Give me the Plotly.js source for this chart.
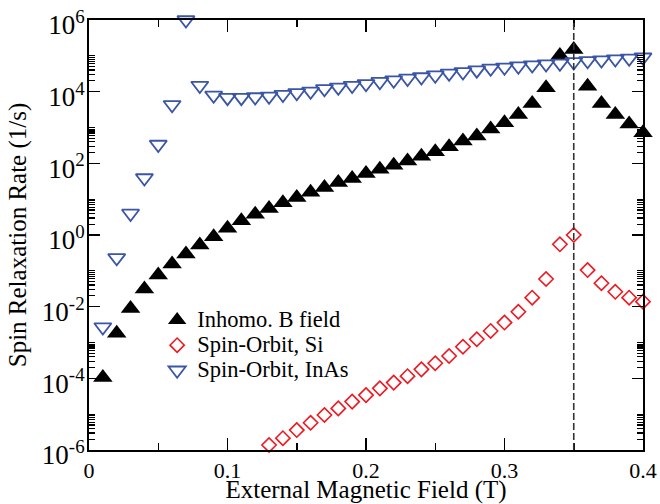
<!DOCTYPE html>
<html>
<head>
<meta charset="utf-8">
<script src="https://cdn.plot.ly/plotly-3.0.1.min.js"></script>
<style>html,body{margin:0;padding:0;background:#fff;}</style>
</head>
<body>
<div id="chart" style="width:660px;height:504px;"></div>
<script>
// External magnetic field (T)
const fieldFull = [0.01,0.02,0.03,0.04,0.05,0.06,0.07,0.08,0.09,0.10,
                   0.11,0.12,0.13,0.14,0.15,0.16,0.17,0.18,0.19,0.20,
                   0.21,0.22,0.23,0.24,0.25,0.26,0.27,0.28,0.29,0.30,
                   0.31,0.32,0.33,0.34,0.35,0.36,0.37,0.38,0.39,0.40];
const fieldSi = [0.13,0.14,0.15,0.16,0.17,0.18,0.19,0.20,
                 0.21,0.22,0.23,0.24,0.25,0.26,0.27,0.28,0.29,0.30,
                 0.31,0.32,0.33,0.34,0.35,0.36,0.37,0.38,0.39,0.40];

// Spin relaxation rates (1/s)
const rateInhomo = [1.05e-4,1.8e-3,8.9e-3,3.1e-2,7.6e-2,0.155,0.295,0.525,0.89,1.55,
                    2.5,3.8,5.5,7.9,11.2,15.5,21,29,38,52,
                    68,89,117,158,209,288,417,575,912,1350,
                    2290,4680,12900,102000,151000,14100,4680,2290,1260,708];
const rateSi = [1.38e-6,2.14e-6,3.6e-6,5.75e-6,9.5e-6,1.45e-5,2.24e-5,3.4e-5,
                5.25e-5,7.6e-5,1.15e-4,1.78e-4,2.63e-4,4.2e-4,7.6e-4,1.23e-3,2.1e-3,3.6e-3,
                7.2e-3,1.78e-2,5.9e-2,0.55,1.0,0.105,0.045,0.026,0.0178,0.0138];
const rateInAs = [2.7e-3,0.23,4.0,39,335,4300,1.0e6,14800,7900,6800,
                  6800,7100,7400,8300,9300,10200,12000,13200,14800,16600,
                  19000,20900,23400,25700,28800,32400,35500,39800,44700,47900,
                  51300,55000,58900,61700,67600,72400,75900,81300,85100,91200];

const seriesNames = ['Inhomo. B field','Spin-Orbit, Si','Spin-Orbit, InAs'];
const crossingField = 0.35;

const yTickVals = [1e-6,1e-4,1e-2,1e0,1e2,1e4,1e6];
const yTickText = ['10<sup>-6</sup>','10<sup>-4</sup>','10<sup>-2</sup>','10<sup>0</sup>',
                   '10<sup>2</sup>','10<sup>4</sup>','10<sup>6</sup>'];

// minor log ticks: 2..10 x each labelled decade
const yMinor = [];
for (let e = -6; e < 6; e += 2) {
  for (let k = 2; k <= 10; k++) yMinor.push(k * Math.pow(10, e));
}

const FONT = 'Liberation Serif';
const legendName = s => '<span style="font-size:22.5px">' + s + '</span>';

const traces = [
  {x: fieldFull, y: rateInhomo, name: legendName(seriesNames[0]), type: 'scatter', mode: 'markers',
   cliponaxis: false,
   marker: {symbol: 'triangle-up', size: 17, color: '#000000', line: {width: 0}}},
  {x: fieldSi, y: rateSi, name: legendName(seriesNames[1]), type: 'scatter', mode: 'markers',
   cliponaxis: false,
   marker: {symbol: 'diamond-open', size: 11, color: '#f01820', line: {width: 1.6, color: '#f01820'}}},
  {x: fieldFull, y: rateInAs, name: legendName(seriesNames[2]), type: 'scatter', mode: 'markers',
   cliponaxis: false,
   marker: {symbol: 'triangle-down-open', size: 15, color: '#3a55a5', line: {width: 1.8, color: '#3a55a5'}}}
];

const layout = {
  width: 660, height: 504,
  margin: {l: 89, r: 17, t: 20, b: 54, pad: 0},
  paper_bgcolor: '#ffffff', plot_bgcolor: '#ffffff',
  font: {family: FONT, color: '#000000', size: 22},
  showlegend: true,
  legend: {x: 0.123, y: 0.343, xanchor: 'left', yanchor: 'top',
           bgcolor: 'rgba(0,0,0,0)', borderwidth: 0,
           font: {family: FONT, size: 17, color: '#000000'}},
  xaxis: {
    range: [0, 0.4], tickmode: 'linear', tick0: 0, dtick: 0.1,
    ticks: 'inside', ticklen: 12, tickwidth: 1.5, tickcolor: '#000',
    showline: true, linewidth: 2, linecolor: '#000', mirror: 'ticks',
    showgrid: false, zeroline: false,
    tickfont: {family: FONT, size: 22},
    minor: {tickmode: 'linear', tick0: 0, dtick: 0.05, ticks: 'inside', ticklen: 7, tickwidth: 1.5, tickcolor: '#000', showgrid: false},
    title: {text: 'External Magnetic Field (T)', font: {family: FONT, size: 25}, standoff: 3}
  },
  yaxis: {
    type: 'log', range: [-6, 6],
    tickmode: 'array', tickvals: yTickVals, ticktext: yTickText,
    ticks: 'inside', ticklen: 11, tickwidth: 1.5, tickcolor: '#000',
    ticklabelstandoff: -3, ticklabelshift: 5, ticklabeloverflow: 'allow',
    showline: true, linewidth: 2, linecolor: '#000', mirror: 'ticks',
    showgrid: false, zeroline: false,
    tickfont: {family: FONT, size: 27},
    minor: {tickmode: 'array', tickvals: yMinor, ticks: 'inside', ticklen: 6, tickwidth: 1.2, tickcolor: '#000', showgrid: false},
    title: {text: 'Spin Relaxation Rate (1/s)', font: {family: FONT, size: 25}, standoff: 8}
  },
  shapes: [
    {type: 'line', xref: 'x', yref: 'paper', x0: crossingField, x1: crossingField, y0: 0, y1: 1,
     line: {color: '#333333', width: 1.6, dash: '7px,3px'}}
  ]
};

Plotly.newPlot('chart', traces, layout, {displayModeBar: false, staticPlot: true});
</script>
</body>
</html>
